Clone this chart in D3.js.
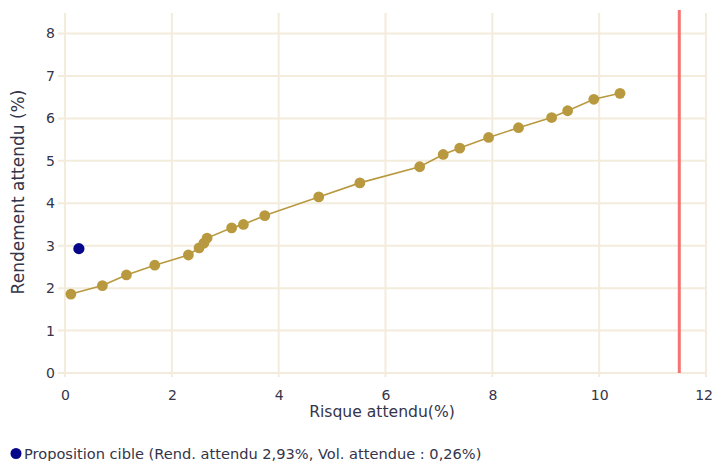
<!DOCTYPE html>
<html>
<head>
<meta charset="utf-8">
<script src="https://cdn.jsdelivr.net/npm/d3@7"></script>
<style>
  html, body { margin: 0; padding: 0; background: #ffffff; }
  svg { display: block; font-family: "DejaVu Sans", Verdana, sans-serif; }
</style>
</head>
<body>
<svg id="chart" width="713" height="461"></svg>
<script>
// Data
const frontierRisk = [0.11, 0.70, 1.15, 1.68, 2.31, 2.51, 2.60, 2.66, 3.12, 3.34, 3.74, 4.75, 5.52, 6.64, 7.08, 7.39, 7.93, 8.49, 9.11, 9.41, 9.90, 10.39];
const frontierReturn = [1.86, 2.06, 2.31, 2.54, 2.78, 2.95, 3.06, 3.18, 3.42, 3.50, 3.71, 4.15, 4.48, 4.86, 5.15, 5.30, 5.55, 5.78, 6.02, 6.18, 6.45, 6.59];
const targetRisk = [0.26];
const targetReturn = [2.93];
const riskLimit = [11.5];
const xTicks = [0, 2, 4, 6, 8, 10, 12];
const yTicks = [0, 1, 2, 3, 4, 5, 6, 7, 8];
const xTitle = "Risque attendu(%)";
const yTitle = "Rendement attendu (%)";
const legendLabel = "Proposition cible (Rend. attendu 2,93%, Vol. attendue : 0,26%)";

(function () {
const svg = d3.select("#chart");
const pLeft = 65, pRight = 706, pTop = 13, pBottom = 373;
const font = "DejaVu Sans, Verdana, sans-serif";

const x = d3.scaleLinear().domain([0, 12]).range([pLeft, pRight]);
const y = d3.scaleLinear().domain([0, 8]).range([pBottom, 33.5]);

const gridColor = "#f3ecdc";
const textColor = "#34344a";

// vertical grid lines
svg.append("g").selectAll("line").data(xTicks).join("line")
  .attr("x1", d => x(d)).attr("x2", d => x(d))
  .attr("y1", pTop).attr("y2", pBottom + 4)
  .attr("stroke", gridColor).attr("stroke-width", 2);

// horizontal grid lines
svg.append("g").selectAll("line").data(yTicks).join("line")
  .attr("x1", pLeft - 7).attr("x2", pRight)
  .attr("y1", d => y(d)).attr("y2", d => y(d))
  .attr("stroke", gridColor).attr("stroke-width", 2);

// axis labels via d3 axes
const xAxis = svg.append("g").attr("transform", `translate(0,${pBottom})`)
  .call(d3.axisBottom(x).tickValues(xTicks).tickSize(0).tickPadding(17).tickFormat(d3.format("d")));
xAxis.select(".domain").remove();
xAxis.selectAll("text").attr("fill", textColor).style("font-size", "14px").style("font-family", font);
// keep the last label inside the picture
xAxis.selectAll(".tick").filter(d => d === xTicks[xTicks.length - 1]).select("text")
  .attr("text-anchor", "end").attr("x", 6.5);

const yAxis = svg.append("g").attr("transform", `translate(${pLeft - 8},0)`)
  .call(d3.axisLeft(y).tickValues(yTicks).tickSize(0).tickPadding(2).tickFormat(d3.format("d")));
yAxis.select(".domain").remove();
yAxis.selectAll("text").attr("fill", textColor).style("font-size", "14px").style("font-family", font);

// red risk limit line
svg.append("g").selectAll("line").data(riskLimit).join("line")
  .attr("x1", d => x(d)).attr("x2", d => x(d))
  .attr("y1", 10).attr("y2", pBottom)
  .attr("stroke", "#f47474").attr("stroke-width", 3);

// frontier line
const pts = frontierRisk.map((r, i) => [r, frontierReturn[i]]);
svg.append("path").datum(pts)
  .attr("fill", "none").attr("stroke", "#b9993f").attr("stroke-width", 1.6)
  .attr("d", d3.line().x(d => x(d[0])).y(d => y(d[1])));

svg.append("g").selectAll("circle").data(pts).join("circle")
  .attr("cx", d => x(d[0])).attr("cy", d => y(d[1])).attr("r", 5.4)
  .attr("fill", "#b9993f");

// target point
const tpts = targetRisk.map((r, i) => [r, targetReturn[i]]);
svg.append("g").selectAll("circle").data(tpts).join("circle")
  .attr("cx", d => x(d[0])).attr("cy", d => y(d[1])).attr("r", 5.6)
  .attr("fill", "#06068a");

// titles
svg.append("text").attr("x", 382).attr("y", 417)
  .attr("text-anchor", "middle").attr("fill", textColor)
  .style("font-size", "15.6px").style("font-family", font)
  .text(xTitle);

svg.append("text").attr("transform", `translate(24,192) rotate(-90)`)
  .attr("text-anchor", "middle").attr("fill", textColor)
  .style("font-size", "17px").style("font-family", font)
  .text(yTitle);

// legend
svg.append("circle").attr("cx", 16).attr("cy", 453.5).attr("r", 5.5).attr("fill", "#06068a");
svg.append("text").attr("x", 24).attr("y", 459).attr("fill", textColor)
  .style("font-size", "14.6px").style("font-family", font)
  .text(legendLabel);
})();
</script>
</body>
</html>
